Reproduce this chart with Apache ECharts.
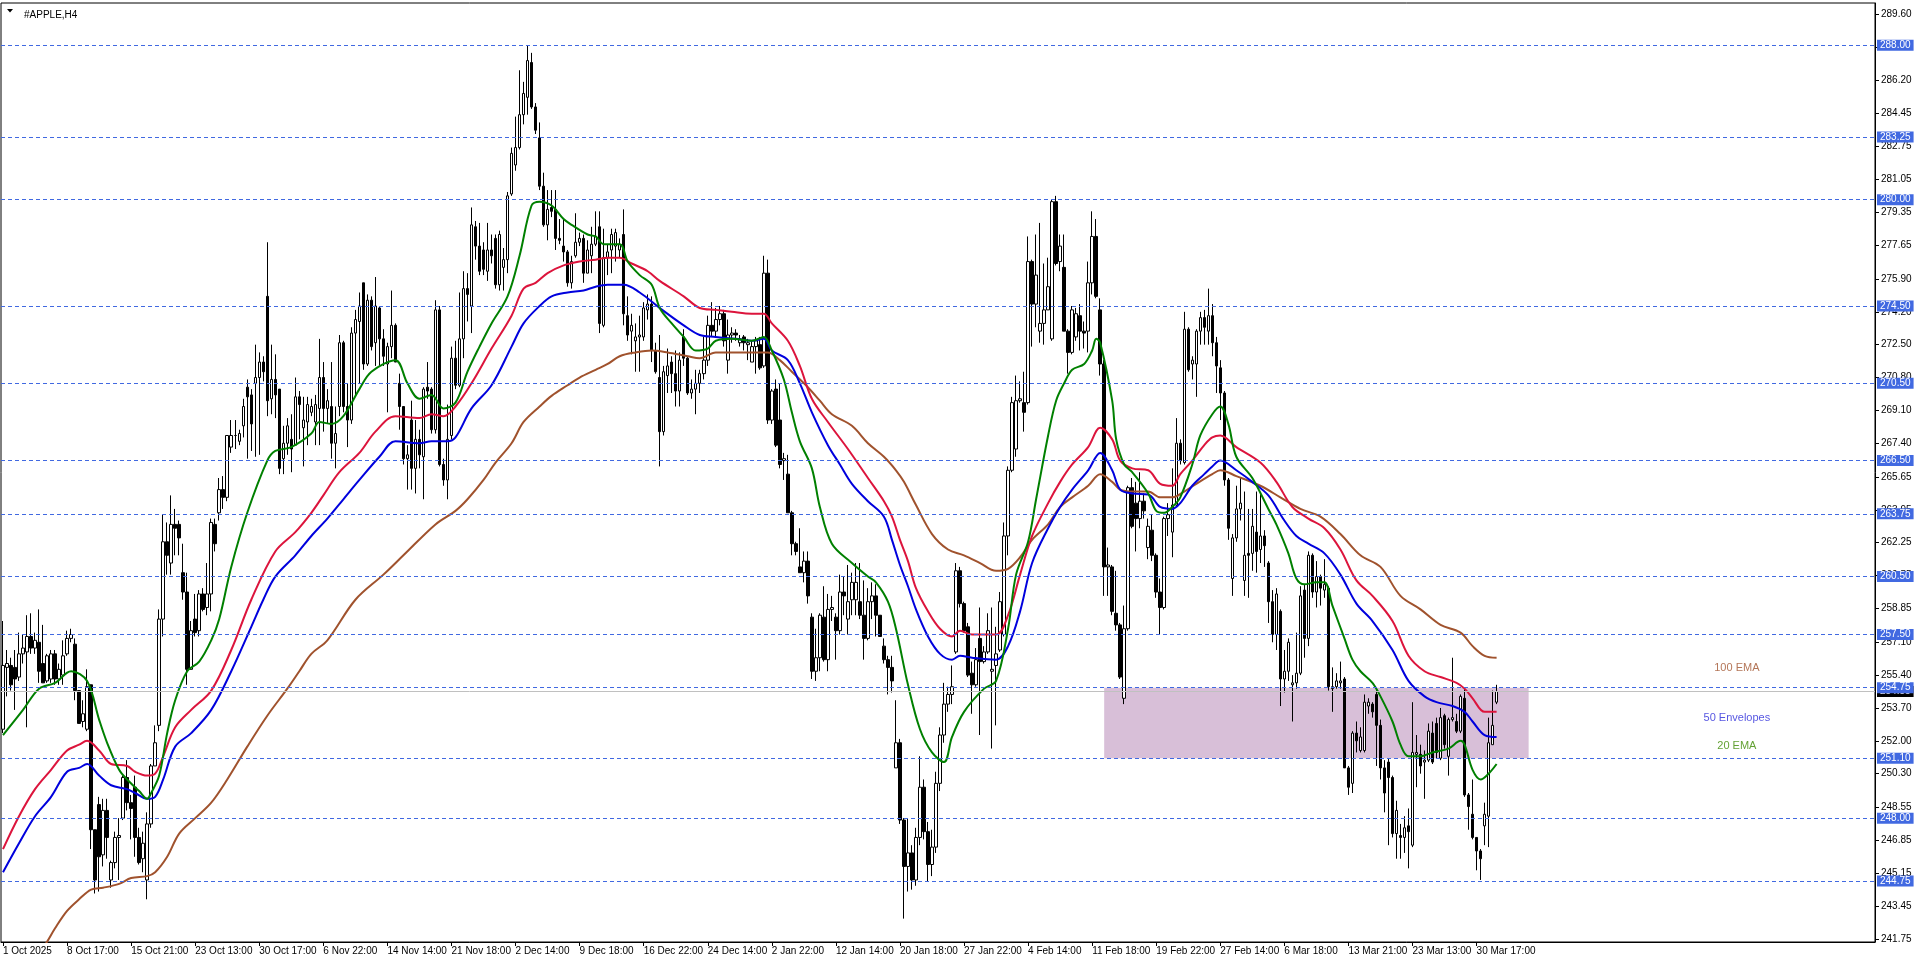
<!DOCTYPE html>
<html><head><meta charset="utf-8">
<script src="https://cdn.jsdelivr.net/npm/echarts@6/dist/echarts.min.js"></script>
<style>html,body{margin:0;padding:0;background:#fff}#c{width:1916px;height:963px}</style>
</head><body><div id="c"></div>
<script>
// ---- data ----
const chartTitle = '#APPLE,H4';
const slotCount = 468; // bar slots visible on the x axis (incl. empty right margin)
const xTickLabels = ['1 Oct 2025','8 Oct 17:00','15 Oct 21:00','23 Oct 13:00','30 Oct 17:00','6 Nov 22:00','14 Nov 14:00','21 Nov 18:00','2 Dec 14:00','9 Dec 18:00','16 Dec 22:00','24 Dec 14:00','2 Jan 22:00','12 Jan 14:00','20 Jan 18:00','27 Jan 22:00','4 Feb 14:00','11 Feb 18:00','19 Feb 22:00','27 Feb 14:00','6 Mar 18:00','13 Mar 21:00','23 Mar 13:00','30 Mar 17:00'];
const xTickEvery = 16;
const yTicks = [289.60,287.90,286.20,284.45,282.75,281.05,279.35,277.65,275.90,274.20,272.50,270.80,269.10,267.40,265.65,263.95,262.25,260.55,258.85,257.10,255.40,253.70,252.00,250.30,248.55,246.85,245.15,243.45,241.75];
const yRange = [241.59, 290.18];
const levels = [288.00,283.25,280.00,274.50,270.50,266.50,263.75,260.50,257.50,254.75,251.10,248.00,244.75];
const bidPrice = 254.55;
const zone = [275, 381, 251.10, 254.75]; // bar from, bar to, price low, price high
const notes = [
  {text:'100 EMA', bar:433, price:255.77, color:'#A0522D'},
  {text:'50 Envelopes', bar:433, price:253.19, color:'#2B2BD9'},
  {text:'20 EMA', bar:433, price:251.74, color:'#3C8A00'}
];
// [open, close, low, high]
const candles = [
[252.6,255.9,252.4,258.2],[255.8,256.0,254.3,256.7],[255.9,254.9,254.6,256.3],[255.8,255.2,253.6,256.7],[255.3,256.5,255.1,257.6],
[256.5,256.8,256.0,257.5],[256.6,257.4,252.7,258.5],[257.4,256.8,256.5,258.6],[256.8,257.2,256.5,257.6],[257.1,255.6,255.0,258.8],
[256.0,255.0,255.0,258.0],[255.1,256.4,255.0,256.5],[255.2,256.5,255.0,256.7],[256.5,255.2,254.9,256.7],[255.2,255.7,254.9,256.0],
[255.4,256.4,254.9,257.2],[256.5,257.3,256.4,257.7],[257.3,257.5,257.1,257.8],[257.0,254.6,254.1,257.3],[254.6,252.9,252.9,254.6],
[253.0,253.4,252.7,254.1],[252.6,254.8,252.5,255.7],[254.9,247.4,246.4,254.9],[247.4,244.8,244.1,247.4],[248.7,246.0,244.2,249.1],
[246.1,248.4,245.5,249.0],[248.4,247.0,245.9,249.0],[244.8,245.7,244.4,245.8],[245.7,247.0,245.4,247.3],[247.0,247.1,244.8,248.0],
[248.0,250.1,247.9,250.2],[250.1,248.8,248.4,251.0],[248.8,248.5,246.9,249.2],[249.6,247.0,246.0,250.2],[247.0,245.7,245.6,247.5],
[245.9,246.7,245.2,247.3],[244.8,247.7,243.8,248.3],[247.7,250.7,247.5,250.8],[250.7,251.9,250.7,252.8],[252.8,258.3,252.5,258.8],
[258.3,262.3,257.4,263.7],[262.3,261.6,260.6,263.3],[261.2,263.2,260.6,264.7],[263.2,263.0,261.6,264.0],[263.2,262.5,261.6,263.4],
[260.7,259.7,259.3,262.2],[259.7,255.7,254.9,260.7],[255.7,257.7,255.7,258.2],[258.3,257.6,257.4,259.6],[257.7,259.6,257.4,259.8],
[259.6,258.8,258.7,259.9],[258.9,259.6,258.5,261.2],[259.6,263.3,258.7,263.5],[263.2,262.2,261.8,263.5],[263.8,265.0,263.4,265.6],
[265.0,264.6,264.0,265.7],[264.6,267.8,264.4,267.8],[267.2,267.8,266.9,268.6],[267.8,267.8,267.1,268.6],[267.5,267.9,267.3,268.1],
[268.3,269.3,267.7,269.7],[270.3,269.8,266.6,270.7],[269.9,268.4,267.0,270.2],[270.5,270.8,266.7,272.5],[270.8,271.6,266.8,272.1],
[271.6,271.1,270.6,271.9],[275.0,269.6,268.8,277.8],[269.7,270.7,268.9,272.5],[270.7,269.9,268.7,272.0],[270.2,266.1,265.8,270.2],
[266.6,267.4,265.8,268.3],[267.4,268.3,266.8,268.7],[267.6,267.1,265.9,268.9],[267.3,269.8,267.3,270.8],[269.8,269.4,267.6,270.1],
[268.2,268.6,266.2,269.8],[268.5,269.4,267.3,269.8],[269.0,269.3,268.8,269.7],[268.5,269.4,267.3,269.9],[269.2,270.8,267.3,272.8],
[270.8,269.2,268.0,271.6],[269.2,269.6,268.4,270.2],[269.3,267.4,266.6,271.6],[267.4,267.9,266.1,269.3],[269.3,272.6,268.8,273.0],
[272.6,269.3,269.0,272.7],[269.3,268.6,267.2,270.5],[268.6,273.1,268.4,273.4],[273.1,273.8,269.8,274.3],[273.7,274.5,270.5,275.2],
[275.7,271.5,271.2,275.7],[271.5,274.8,271.4,275.1],[274.8,272.4,272.2,275.0],[272.6,274.5,271.4,276.0],[274.4,272.8,271.4,274.5],
[272.8,271.9,271.4,273.3],[271.5,272.4,269.0,272.6],[272.4,273.5,271.8,275.3],[273.5,271.6,271.6,273.6],[270.5,269.3,268.1,271.0],
[269.3,266.6,266.3,269.3],[266.6,266.8,265.0,267.3],[268.6,266.1,265.0,269.6],[266.1,267.6,264.8,268.6],[267.6,266.8,266.1,268.1],
[266.7,270.2,264.5,270.3],[270.3,270.1,269.7,271.6],[270.2,268.1,267.9,270.3],[268.1,274.3,267.9,274.8],[274.3,266.3,266.2,274.5],
[266.3,265.5,265.2,266.6],[265.5,267.6,264.5,269.4],[267.8,271.8,267.6,272.4],[271.8,270.4,270.2,272.7],[270.4,272.8,270.3,275.2],
[272.8,275.4,271.8,276.3],[275.4,275.1,273.7,276.2],[274.5,278.7,273.1,279.6],[278.6,277.6,276.9,278.9],[277.6,276.3,276.1,278.8],
[277.4,276.4,276.1,277.8],[276.3,277.4,275.8,278.8],[277.4,277.1,276.7,278.2],[278.0,275.6,275.4,278.2],[275.6,278.2,275.3,278.4],
[276.5,276.9,275.3,277.5],[276.9,280.2,276.2,280.4],[280.3,282.4,280.2,282.7],[281.8,282.7,281.5,284.3],[282.7,284.4,282.6,286.7],
[284.4,285.5,283.9,286.1],[285.3,287.2,284.4,288.0],[287.1,284.8,284.7,287.6],[284.8,283.6,283.4,285.0],[283.2,280.7,280.5,284.0],
[280.7,278.7,278.6,281.4],[278.7,279.5,277.9,280.5],[279.6,279.4,279.1,280.5],[279.5,278.0,277.4,280.5],[278.0,277.9,277.7,279.0],
[277.6,277.3,276.8,279.0],[277.3,275.7,275.5,277.4],[275.7,276.8,275.4,277.1],[277.1,277.8,277.0,279.3],[277.8,278.0,277.6,278.3],
[278.0,276.2,275.7,278.2],[276.2,277.4,276.2,277.9],[277.1,277.7,276.2,278.6],[277.7,278.1,277.6,279.4],[278.6,273.6,273.1,279.4],
[273.5,277.0,273.4,278.5],[277.0,277.3,276.1,277.7],[277.4,278.2,276.2,278.5],[277.6,278.3,276.8,278.5],[277.4,277.7,277.0,278.0],
[278.2,274.1,273.5,279.5],[274.0,273.0,272.7,275.0],[273.2,273.5,272.0,274.1],[272.7,272.9,271.1,273.6],[272.9,273.0,271.1,274.0],
[272.9,274.4,272.7,274.7],[274.3,274.6,273.8,275.1],[274.6,272.2,271.6,275.0],[272.2,271.1,271.0,272.6],[270.8,268.0,266.2,273.0],
[268.0,271.1,267.8,271.4],[270.9,271.4,270.0,272.3],[271.6,271.0,270.0,271.9],[271.0,270.1,269.3,272.2],[270.1,271.7,269.3,272.1],
[272.9,271.8,271.4,273.3],[271.8,270.0,269.9,271.9],[270.0,270.2,269.7,270.7],[270.2,270.5,268.9,271.2],[270.5,271.0,270.0,271.2],
[271.0,271.7,270.7,272.9],[271.7,273.5,271.4,274.0],[273.5,273.2,272.9,274.7],[273.2,273.8,272.9,274.4],[273.8,274.1,273.5,274.5],
[274.1,272.7,272.4,274.3],[271.7,273.0,271.0,273.8],[273.0,273.1,272.6,273.4],[273.1,273.0,272.7,273.3],[272.6,272.8,272.4,273.0],
[272.9,272.6,272.2,273.0],[272.5,272.6,271.7,272.8],[271.6,272.4,271.6,272.7],[272.4,272.7,271.0,272.9],[272.5,271.3,271.2,272.9],
[271.4,276.2,271.3,277.1],[276.2,268.6,268.4,276.9],[268.6,270.1,268.4,270.2],[270.2,267.3,267.2,270.7],[268.6,266.3,266.1,270.5],
[266.5,266.6,265.5,266.9],[265.8,263.8,263.8,266.8],[263.8,262.2,261.6,263.9],[262.2,261.8,261.6,262.3],[261.0,260.7,260.7,263.0],
[260.7,261.3,260.2,261.8],[261.3,259.5,259.1,261.8],[258.4,255.6,255.2,258.6],[255.6,256.3,255.1,257.8],[256.3,258.5,255.6,258.6],
[258.4,256.2,256.1,260.0],[256.2,258.8,255.6,259.6],[258.8,258.9,258.2,259.5],[258.4,257.7,256.2,258.6],[257.7,259.7,257.5,260.6],
[259.7,259.5,258.5,260.5],[258.3,259.2,257.5,261.1],[259.3,260.2,258.5,260.7],[259.3,260.2,258.5,261.2],[259.2,258.5,258.3,261.2],
[258.5,257.3,256.2,260.3],[257.3,259.2,257.2,259.9],[259.2,259.5,258.3,260.2],[259.5,258.5,257.4,260.1],[258.5,257.4,257.4,258.5],
[256.9,256.2,256.0,257.3],[256.2,255.8,254.4,256.4],[255.8,255.1,254.5,256.4],[250.6,251.9,250.6,254.1],[251.9,247.9,247.7,252.1],
[247.9,245.5,242.8,248.0],[245.5,246.2,244.2,248.0],[246.2,244.8,244.3,246.6],[244.8,247.0,244.5,247.5],[247.0,249.6,246.6,251.2],
[249.6,247.3,246.9,250.0],[247.3,245.6,244.7,247.8],[245.6,246.5,245.0,247.4],[246.5,249.8,246.2,250.4],[249.8,252.3,249.4,252.7],
[252.3,253.9,251.9,255.0],[253.9,254.4,253.5,254.8],[254.4,254.8,253.9,255.9],[256.6,260.8,256.5,261.2],[260.8,259.1,258.9,261.0],
[259.1,257.7,257.6,259.2],[257.9,255.4,255.3,258.1],[255.5,254.9,253.4,256.1],[254.9,256.2,254.8,256.8],[257.3,256.1,252.3,258.9],
[256.1,256.6,256.0,256.9],[256.6,257.7,256.5,258.6],[255.6,255.7,251.6,258.9],[255.9,256.5,252.8,257.9],[256.7,259.2,256.6,259.7],
[257.5,262.6,257.4,263.3],[262.6,266.0,261.6,266.2],[266.0,269.5,265.9,269.8],[267.1,269.6,266.7,270.9],[269.6,269.7,269.5,270.6],
[269.5,269.0,268.0,271.1],[269.5,276.8,269.4,278.1],[276.8,274.6,272.4,276.9],[274.6,276.1,273.4,278.2],[273.2,273.6,272.6,278.8],
[273.6,274.3,272.5,276.7],[274.3,275.5,274.3,277.0],[272.8,279.9,272.7,280.0],[279.9,276.7,276.6,280.2],[276.8,277.6,276.3,278.2],
[276.5,273.2,273.2,278.2],[273.2,272.1,271.0,273.3],[272.1,274.3,272.0,274.5],[272.9,274.1,272.7,274.4],[274.0,273.2,272.2,274.6],
[273.2,273.1,272.3,273.7],[273.2,275.7,272.1,276.8],[275.7,278.1,275.1,279.4],[278.1,275.0,274.9,279.0],[274.3,271.5,270.9,274.9],
[271.5,261.0,259.5,271.7],[261.0,261.1,259.5,262.0],[261.0,258.7,258.5,261.1],[258.6,258.0,257.7,260.8],[258.0,255.3,255.2,258.1],
[254.2,257.8,253.9,259.0],[257.8,265.1,257.7,265.2],[265.1,263.1,263.0,265.6],[264.3,263.5,261.8,265.4],[263.5,264.4,263.0,265.9],
[264.4,263.9,263.5,264.8],[262.0,263.1,261.4,263.5],[262.9,261.6,261.3,263.7],[261.6,259.7,259.4,261.7],[259.7,258.9,257.5,260.4],
[258.9,263.5,258.8,263.6],[263.5,263.7,262.6,264.3],[262.8,264.2,261.5,266.1],[264.2,267.4,264.1,268.7],[267.4,266.5,266.3,267.6],
[266.4,273.3,266.3,274.2],[273.3,271.2,271.1,273.4],[271.5,271.7,270.7,271.9],[271.5,273.2,269.8,273.3],[273.2,273.9,272.5,274.2],
[273.9,273.4,272.5,274.3],[273.2,274.0,272.5,275.4],[274.0,272.6,271.9,274.6],[272.6,271.4,270.0,272.9],[271.3,270.0,268.6,271.7],
[270.0,265.5,265.2,270.1],[265.5,263.0,262.4,265.6],[260.4,262.5,259.5,262.7],[262.5,264.0,262.3,265.2],[264.0,264.3,263.4,265.6],
[260.3,261.6,259.5,264.9],[261.7,261.6,259.4,264.0],[261.7,263.1,260.8,264.0],[262.8,261.8,260.7,264.9],[261.9,262.6,261.2,264.8],
[262.6,262.1,261.0,262.9],[261.2,259.2,258.1,261.3],[259.2,257.5,257.1,259.8],[257.5,259.6,256.7,259.9],[258.7,255.2,253.8,258.8],
[255.2,255.6,254.5,256.7],[255.6,257.1,255.1,257.3],[254.9,255.0,253.0,255.4],[255.0,255.5,254.7,257.6],[255.5,259.5,255.4,260.0],
[259.8,257.3,256.3,260.1],[257.3,261.6,256.9,261.8],[261.6,259.7,259.4,261.7],[259.7,260.5,258.9,261.3],[260.5,259.9,259.0,260.6],
[259.8,260.1,259.4,261.4],[259.9,254.8,254.6,260.0],[254.7,254.8,253.5,255.8],[254.8,255.1,254.7,255.5],[255.0,255.1,254.7,256.1],
[255.2,250.6,250.6,255.3],[250.6,249.6,249.2,250.7],[249.8,252.4,249.3,252.5],[252.4,252.0,251.4,253.0],[251.5,252.2,251.4,252.7],
[251.5,254.0,251.4,254.4],[253.8,254.0,253.4,254.2],[253.9,253.5,253.2,254.0],[254.4,252.8,250.7,254.7],[252.8,250.6,250.0,253.1],
[250.6,249.3,248.3,251.0],[250.9,250.1,246.6,251.1],[250.1,247.2,247.0,250.2],[247.2,248.4,245.9,248.9],[247.1,247.0,245.9,247.7],
[247.0,247.5,246.2,248.1],[247.6,247.3,245.4,248.5],[246.6,251.4,246.5,254.0],[251.3,251.4,249.6,252.3],[251.3,250.7,250.3,251.8],
[250.9,251.0,249.0,251.5],[251.0,252.5,250.9,252.9],[252.4,250.9,250.8,253.0],[252.9,251.4,251.1,253.2],[251.1,253.2,251.0,253.7],
[253.3,251.8,251.6,253.4],[251.2,253.1,250.2,253.2],[253.1,253.2,253.0,256.3],[253.0,252.5,252.4,253.4],[252.5,254.3,252.4,254.4],
[254.2,249.2,249.1,254.7],[249.2,248.6,247.4,249.3],[248.2,247.0,246.9,250.0],[247.0,246.3,245.3,247.0],[246.3,245.9,244.8,246.4],
[247.6,248.2,246.6,248.8],[248.1,251.9,246.5,253.2],[251.8,252.8,251.8,254.6],[254.0,254.55,253.9,254.9]
];
// indicator readings: [bar, price]
const ema20 = [[0,252.3],[5,253.6],[9,254.7],[13,255.0],[17,255.6],[21,255.1],[24,253.1],[26,251.9],[29,250.5],[31,250.0],[34,249.4],[36,249.0],[37,249.3],[39,250.2],[41,252.4],[43,254.1],[46,255.6],[49,256.1],[52,257.2],[54,258.3],[57,261.0],[61,263.8],[66,266.5],[68,267.0],[72,267.2],[77,267.9],[79,268.5],[82,268.4],[85,268.8],[89,270.2],[92,271.1],[98,271.7],[101,270.5],[104,269.7],[107,269.9],[110,269.2],[113,269.5],[116,271.1],[119,272.4],[122,273.6],[126,275.0],[129,277.1],[132,279.7],[134,279.9],[137,279.7],[140,279.0],[142,278.7],[146,278.2],[148,278.1],[150,277.7],[154,277.7],[156,276.8],[159,276.1],[162,275.6],[164,274.4],[167,273.6],[170,272.9],[173,272.2],[176,272.3],[178,272.7],[182,272.8],[187,272.7],[190,272.9],[192,272.2],[195,270.7],[197,269.0],[199,267.5],[202,266.1],[204,264.1],[207,262.2],[212,261.2],[216,260.5],[218,260.2],[221,259.2],[223,257.8],[226,254.9],[229,252.6],[232,251.4],[235,250.9],[237,252.2],[240,253.5],[245,254.7],[248,255.1],[251,257.8],[253,260.6],[256,262.3],[258,264.5],[261,267.8],[263,269.6],[265,270.5],[267,271.2],[270,271.5],[272,272.2],[273,272.8],[274,272.6],[277,269.6],[278,267.6],[280,266.3],[282,265.9],[286,264.8],[288,263.9],[290,263.8],[292,264.1],[294,264.6],[297,266.3],[299,267.8],[302,268.9],[304,269.3],[306,268.4],[308,266.7],[312,265.6],[316,264.0],[318,263.2],[321,261.7],[323,260.4],[325,260.1],[328,260.2],[330,260.2],[332,259.0],[335,257.3],[337,256.2],[339,255.6],[342,255.0],[344,254.3],[347,253.0],[349,251.8],[351,251.2],[354,251.2],[357,251.4],[361,251.6],[364,252.0],[365,251.8],[367,250.5],[369,250.0],[371,250.3],[373,250.8]];
const envUpper = [[0,246.4],[4,248.1],[8,249.5],[12,250.5],[16,251.5],[19,251.8],[21,252.0],[24,251.5],[27,250.8],[31,250.7],[33,250.4],[36,250.2],[38,250.3],[40,251.2],[43,252.7],[47,253.6],[52,254.6],[57,256.7],[62,259.3],[68,261.8],[73,262.8],[77,263.8],[80,264.7],[84,265.9],[89,266.9],[93,268.0],[98,268.8],[104,268.7],[107,268.9],[110,268.8],[113,269.3],[117,270.5],[122,272.3],[127,274.0],[130,275.4],[133,275.7],[136,276.2],[140,276.6],[144,276.8],[148,276.9],[151,277.0],[154,277.0],[157,276.7],[161,276.3],[164,275.8],[170,275.0],[174,274.4],[178,274.3],[182,274.2],[187,274.1],[190,274.1],[192,273.6],[196,272.7],[199,271.4],[202,269.7],[206,268.5],[211,267.1],[216,265.6],[220,264.4],[222,263.6],[224,262.4],[226,261.3],[228,259.9],[231,258.7],[234,257.8],[237,257.4],[239,257.7],[242,257.5],[248,257.5],[251,258.5],[254,260.6],[257,262.6],[261,264.3],[264,265.4],[267,266.3],[271,267.2],[274,268.2],[277,267.6],[279,266.5],[282,266.1],[286,266.0],[289,265.3],[292,265.2],[294,265.8],[297,266.5],[300,267.3],[302,267.7],[304,267.8],[308,267.2],[314,266.4],[318,265.4],[322,264.1],[326,263.5],[330,263.0],[334,261.9],[338,260.3],[342,259.5],[347,258.2],[351,256.4],[355,255.6],[359,255.3],[363,255.0],[365,254.7],[367,254.2],[370,253.5],[373,253.5]];
const envLower = [[0,245.2],[4,246.7],[8,248.1],[12,249.1],[16,250.4],[19,250.6],[21,250.8],[24,250.2],[27,249.7],[31,249.5],[33,249.3],[36,249.0],[38,249.1],[40,250.0],[43,251.7],[47,252.4],[52,253.6],[57,255.6],[62,257.9],[65,259.3],[68,260.5],[73,261.6],[77,262.6],[81,263.5],[85,264.5],[89,265.5],[94,266.7],[98,267.5],[104,267.4],[107,267.5],[111,267.5],[113,267.7],[117,269.2],[122,270.4],[127,272.4],[130,273.6],[134,274.5],[137,275.0],[141,275.2],[145,275.3],[148,275.5],[151,275.6],[155,275.6],[159,275.2],[164,274.4],[170,273.5],[174,273.0],[178,272.9],[183,272.8],[187,272.7],[190,272.8],[192,272.2],[196,271.7],[199,270.5],[202,269.0],[206,267.3],[209,266.3],[212,265.3],[216,264.4],[220,263.6],[222,262.4],[224,261.1],[226,260.0],[228,258.8],[231,257.4],[234,256.5],[237,256.2],[239,256.4],[242,256.3],[248,256.2],[251,256.9],[254,258.7],[257,261.2],[261,263.0],[264,264.1],[267,265.0],[271,266.0],[274,266.9],[277,266.0],[279,265.0],[282,264.8],[286,264.75],[289,264.1],[292,264.0],[294,264.3],[297,265.2],[300,265.8],[302,266.2],[304,266.5],[308,266.0],[312,265.4],[316,264.7],[320,263.4],[323,262.6],[326,262.2],[330,261.7],[334,260.6],[338,259.1],[342,258.2],[347,256.7],[351,255.1],[355,254.3],[358,254.0],[362,253.8],[365,253.5],[367,253.0],[370,252.3],[373,252.2]];
const ema100 = [[9,241.0],[11,241.6],[13,242.3],[16,243.2],[19,243.8],[22,244.3],[25,244.4],[29,244.6],[32,244.9],[36,245.0],[38,245.2],[41,246.0],[44,247.2],[48,248.0],[52,248.8],[56,250.0],[61,251.7],[66,253.3],[71,254.7],[74,255.6],[77,256.5],[81,257.2],[88,259.3],[95,260.6],[100,261.6],[108,263.2],[113,263.9],[116,264.5],[120,265.5],[123,266.4],[127,267.4],[130,268.5],[134,269.3],[137,269.85],[141,270.4],[144,270.8],[148,271.2],[151,271.5],[154,271.9],[158,272.1],[162,272.2],[166,272.1],[171,271.9],[174,271.8],[178,272.1],[183,272.1],[187,272.1],[191,272.1],[194,271.7],[197,271.1],[201,270.3],[204,269.6],[207,268.9],[212,268.3],[216,267.4],[220,266.7],[223,266.0],[225,265.4],[228,264.2],[232,262.7],[236,261.9],[240,261.6],[244,261.2],[248,260.8],[251,260.9],[254,261.5],[257,262.4],[261,263.2],[264,264.1],[267,264.6],[271,265.2],[274,265.8],[277,265.4],[279,265.0],[282,264.9],[286,264.9],[289,264.6],[292,264.6],[295,264.9],[298,265.3],[302,265.8],[304,266.0],[308,265.7],[314,265.2],[319,264.6],[324,264.0],[329,263.6],[334,262.7],[339,261.6],[344,261.0],[349,259.5],[354,258.8],[359,258.0],[364,257.6],[367,256.9],[370,256.4],[373,256.3]];

// ---- chart ----
const FONT = 'Liberation Sans';
const slots = Array.from({length: slotCount}, (_, i) => String(i));
const lastLabelSlot = (xTickLabels.length - 1) * xTickEvery;
const tickShown = (i) => i % xTickEvery === 0 && i <= lastLabelSlot;
const lineSeries = (name, data, color) => ({
  name, type: 'line', data, showSymbol: false, smooth: 0.35, z: 4, silent: true,
  lineStyle: {color, width: 2}, clip: true
});
const chart = echarts.init(document.getElementById('c'));
chart.setOption({
  animation: false,
  backgroundColor: '#fff',
  textStyle: {fontFamily: FONT},
  title: {text: chartTitle, left: 19, top: 5, textStyle: {fontSize: 10, fontWeight: 'normal', color: '#000', fontFamily: FONT}},
  graphic: [{type: 'polygon', shape: {points: [[7, 9], [13, 9], [10, 12.5]]}, style: {fill: '#000'}}],
  grid: {left: 1, right: 41, top: 3, bottom: 21, show: true, borderColor: '#000', borderWidth: 1},
  xAxis: {
    type: 'category', data: slots, boundaryGap: true,
    axisLine: {show: true, lineStyle: {color: '#000', width: 1}},
    axisTick: {show: true, interval: (i) => tickShown(i), alignWithLabel: true, length: 4, lineStyle: {color: '#000'}},
    axisLabel: {interval: (i) => tickShown(i), formatter: (v, i) => xTickLabels[i / xTickEvery] || '', align: 'left',
      color: '#000', fontSize: 10, fontFamily: FONT, margin: 4},
    splitLine: {show: false}
  },
  yAxis: {
    type: 'value', position: 'right', min: yRange[0], max: yRange[1],
    axisLine: {show: true, lineStyle: {color: '#000', width: 1}},
    axisTick: {show: true, length: 4, customValues: yTicks, lineStyle: {color: '#000'}},
    axisLabel: {customValues: yTicks, formatter: (v) => v.toFixed(2), color: '#000', fontSize: 10, fontFamily: FONT, margin: 6},
    splitLine: {show: false}
  },
  series: [
    {
      name: 'zone', type: 'line', data: [], z: 1, silent: true,
      markArea: {silent: true, itemStyle: {color: '#D8BFD8'},
        data: [[{xAxis: String(zone[0]), yAxis: zone[2]}, {xAxis: String(zone[1]), yAxis: zone[3]}]]}
    },
    {
      name: 'bid', type: 'line', data: [], z: 2, silent: true,
      markLine: {silent: true, symbol: 'none', animation: false,
        lineStyle: {color: '#C0C0C0', type: 'solid', width: 1},
        label: {position: 'end', distance: 2, formatter: (p) => p.value.toFixed(2), color: '#fff', backgroundColor: '#000',
          fontSize: 10, fontFamily: FONT, padding: [1, 3, 0, 3], lineHeight: 10},
        data: [{yAxis: bidPrice}]}
    },
    {
      name: 'candles', type: 'candlestick', data: candles, barWidth: 3, z: 3,
      itemStyle: {color: '#fff', color0: '#000', borderColor: '#000', borderColor0: '#000', borderWidth: 1}
    },
    lineSeries('EMA 100', ema100, '#A0522D'),
    lineSeries('Env upper', envUpper, '#DC143C'),
    lineSeries('Env lower', envLower, '#0000DD'),
    lineSeries('EMA 20', ema20, '#008000'),
    {
      name: 'levels', type: 'line', data: [], z: 5, silent: true,
      markLine: {silent: true, symbol: 'none', animation: false,
        lineStyle: {color: '#4169E1', type: [4, 3], width: 1},
        label: {position: 'end', distance: 2, formatter: (p) => p.value.toFixed(2), color: '#fff', backgroundColor: '#4169E1',
          fontSize: 10, fontFamily: FONT, padding: [1, 3, 0, 3], lineHeight: 10},
        data: levels.map((v) => ({yAxis: v}))}
    },
    {
      name: 'notes', type: 'scatter', symbolSize: 0, z: 6, silent: true,
      data: notes.map((n) => ({value: [n.bar, n.price], name: n.text,
        label: {show: true, position: 'inside', formatter: n.text, color: n.color, fontSize: 11, fontFamily: FONT}}))
    }
  ]
});
</script></body></html>
